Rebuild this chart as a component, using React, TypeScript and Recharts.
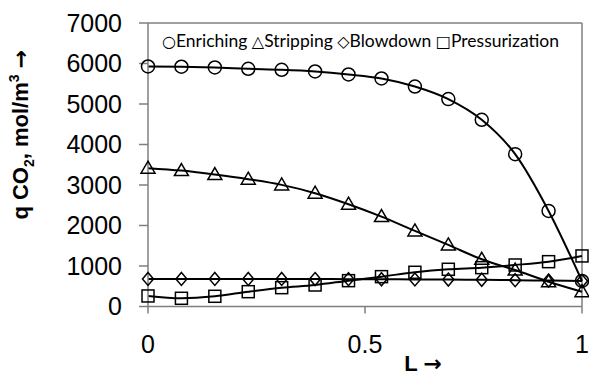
import { LineChart, Line, XAxis, YAxis, ReferenceLine, Label } from "recharts";

// dimensionless length L
const lengths = [0, 0.077, 0.154, 0.231, 0.308, 0.385, 0.462, 0.538, 0.615, 0.692, 0.769, 0.846, 0.923, 1];

// q CO2, mol/m3
const enriching = [5927, 5920, 5902, 5870, 5845, 5803, 5729, 5630, 5432, 5121, 4610, 3762, 2360, 630];
const stripping = [3416, 3356, 3258, 3143, 3003, 2798, 2526, 2220, 1866, 1520, 1166, 900, 613, 366];
const blowdown = [680, 680, 680, 680, 680, 678, 675, 672, 668, 664, 660, 650, 640, 628];
const pressurization = [260, 203, 252, 366, 465, 531, 638, 737, 845, 919, 959, 1025, 1107, 1248];

const xTicks = [0, 0.5, 1];
const yTicks = [0, 1000, 2000, 3000, 4000, 5000, 6000, 7000];

const data = lengths.map((x, i) => ({
  x,
  enriching: enriching[i],
  stripping: stripping[i],
  blowdown: blowdown[i],
  pressurization: pressurization[i],
}));

const AXIS = "#7f7f7f";
const FONT = "'Liberation Sans', Arial, sans-serif";
const ARROW_FONT = "'DejaVu Sans', sans-serif";

const markerStyle = { fill: "none", stroke: "#000", strokeWidth: 1.5 };

function circleDot(p: any) {
  return <circle key={p.index} cx={p.cx} cy={p.cy} r={6.5} {...markerStyle} />;
}
function triangleDot(p: any) {
  const { cx, cy } = p;
  return <path key={p.index} d={`M${cx},${cy - 7}L${cx + 7},${cy + 5}L${cx - 7},${cy + 5}Z`} {...markerStyle} />;
}
function diamondDot(p: any) {
  const { cx, cy } = p;
  return <path key={p.index} d={`M${cx},${cy - 6.5}L${cx + 5.5},${cy}L${cx},${cy + 6.5}L${cx - 5.5},${cy}Z`} {...markerStyle} />;
}
function squareDot(p: any) {
  const { cx, cy } = p;
  return <rect key={p.index} x={cx - 6} y={cy - 6} width={12} height={12} {...markerStyle} />;
}

const series = [
  { key: "enriching", name: "Enriching", sym: "○", dot: circleDot },
  { key: "stripping", name: "Stripping", sym: "△", dot: triangleDot },
  { key: "blowdown", name: "Blowdown", sym: "◇", dot: diamondDot },
  { key: "pressurization", name: "Pressurization", sym: "□", dot: squareDot },
];

function YTitle(props: any) {
  const { x, y, width, height } = props.viewBox;
  const cx = x + width - 120;
  const cy = y + height / 2 - 30;
  return (
    <text
      x={cx}
      y={cy}
      transform={`rotate(-90 ${cx} ${cy})`}
      textAnchor="middle"
      fontFamily={FONT}
      fontWeight="bold"
      fontSize={22}
      fill="#000"
    >
      q CO<tspan fontSize={14} dy={6}>2</tspan>
      <tspan dy={-6}>, mol/m</tspan>
      <tspan fontSize={14} dy={-9}>3</tspan>
      <tspan dy={9}> </tspan>
      <tspan fontFamily={ARROW_FONT}>→</tspan>
    </text>
  );
}

function XTitle(props: any) {
  const { x, y, width } = props.viewBox;
  return (
    <text
      x={x + width * 0.634}
      y={y + 64}
      textAnchor="middle"
      fontFamily={FONT}
      fontWeight="bold"
      fontSize={22}
      fill="#000"
    >
      L <tspan fontFamily={ARROW_FONT}>→</tspan>
    </text>
  );
}

export default function App() {
  return (
    <div style={{ position: "relative", width: 589, height: 374 }}>
      <style>{`body{margin:0}`}</style>
      <LineChart width={589} height={374} data={data} margin={{ top: 23, right: 7, bottom: 7, left: 0 }}>
        <XAxis
          type="number"
          dataKey="x"
          domain={[0, 1]}
          ticks={xTicks}
          tickFormatter={(v) => String(v)}
          tick={{ fontSize: 25, fill: "#000", fontFamily: FONT }}
          tickSize={7}
          tickMargin={22}
          axisLine={{ stroke: AXIS, strokeWidth: 1.5 }}
          tickLine={{ stroke: AXIS, strokeWidth: 1.5 }}
          height={60.5}
        >
          <Label content={XTitle} />
        </XAxis>
        <YAxis
          type="number"
          domain={[0, 7000]}
          ticks={yTicks}
          tick={{ fontSize: 25, fill: "#000", fontFamily: FONT }}
          tickSize={9}
          tickMargin={17}
          axisLine={{ stroke: AXIS, strokeWidth: 1.5 }}
          tickLine={{ stroke: AXIS, strokeWidth: 1.5 }}
          width={148}
        >
          <Label content={YTitle} />
        </YAxis>
        <ReferenceLine y={7000} stroke={AXIS} strokeWidth={1.5} />
        <ReferenceLine x={1} stroke={AXIS} strokeWidth={1.5} />
        {series.map((s) => (
          <Line
            key={s.key}
            dataKey={s.key}
            name={s.name}
            type="monotone"
            stroke="#000"
            strokeWidth={2}
            dot={s.dot}
            isAnimationActive={false}
          />
        ))}
      </LineChart>
      <div
        style={{
          position: "absolute",
          left: 162,
          top: 30,
          fontFamily: "Lato, sans-serif",
          fontSize: 17.5,
          whiteSpace: "nowrap",
          color: "#000",
        }}
      >
        {series.map((s, i) => (
          <span key={s.key}>
            {i > 0 ? " " : ""}
            <span style={{ fontFamily: "'DejaVu Sans', sans-serif", fontSize: 16 }}>{s.sym}</span>
            {s.name}
          </span>
        ))}
      </div>
    </div>
  );
}
